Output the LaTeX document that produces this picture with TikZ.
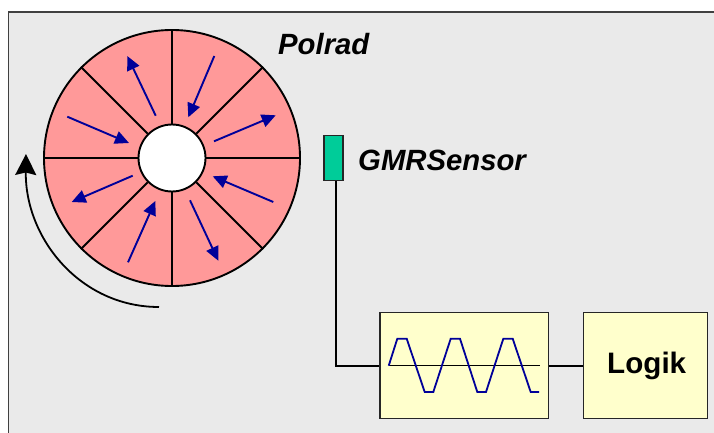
\documentclass[tikz,border=0pt]{standalone}
\usepackage{fontspec}
\setmainfont{Liberation Sans}
\usetikzlibrary{arrows.meta}
\definecolor{panelgrau}{HTML}{EAEAEA}
\definecolor{randgrau}{HTML}{404040}
\definecolor{polrot}{HTML}{FF9999}
\definecolor{pfeilblau}{HTML}{000099}
\definecolor{sensorgruen}{HTML}{00CC99}
\definecolor{kastengelb}{HTML}{FFFFCC}
\begin{document}
\begin{tikzpicture}[x=1pt,y=-1pt]
	% Styles
	\tikzstyle{linie}=[line width=1.9pt,black]
	\tikzstyle{pfeil}=[-{Triangle[length=14pt,width=13pt]},line width=1.9pt,pfeilblau]
	\tikzstyle{drehpfeil}=[-{Stealth[length=21pt,width=21pt,inset=2.5pt]},line width=1.8pt,black]
	\tikzstyle{rad}=[circle,draw=black,line width=1.9pt,fill=polrot,minimum size=256pt,inner sep=0pt]
	\tikzstyle{nabe}=[circle,draw=black,line width=1.9pt,fill=white,minimum size=67pt,inner sep=0pt]
	\tikzstyle{kasten}=[draw=black!85,line width=1.3pt,fill=kastengelb,minimum height=106pt,inner sep=0pt]
	\tikzstyle{titel}=[font=\fontsize{29.3}{32}\selectfont\bfseries\itshape,anchor=base west,inner sep=0pt]
	% Dimensions
	\def\NiveauSignal{365.7}
	\def\WelleOben{338.7}
	\def\WelleUnten{392}
	\useasboundingbox (0,0) rectangle (714,433);
	% Panel
	\fill[panelgrau] (8.5,12) rectangle (714,433);
	\draw[randgrau,line width=1.1pt] (8.5,433)--(8.5,12)--(714,12);
	% Noeuds
	\node[rad] (Rad) at (172,158) {};
	\node[nabe] (Nabe) at (172,158) {};
	\node[titel] (Polrad) at (278,55) {Polrad};
	\node[titel] (GMR) at (358,170) {GMRSensor};
	\node[draw=black!85,line width=1.4pt,fill=sensorgruen,minimum width=19pt,minimum height=45pt,inner sep=0pt] (Sensor) at (333.6,157.7) {};
	\node[kasten,minimum width=168.3pt] (Filter) at (464.2,365.3) {};
	\node[kasten,minimum width=124pt] (Logik) at (645.3,365.3) {};
	\node[font=\fontsize{29.6}{32}\selectfont\bfseries,inner sep=0pt,anchor=base] (LogikText) at (646.7,373) {Logik};
	% Speichen
	\foreach \winkel in {0,45,...,315}
		\draw[linie] (Nabe.\winkel)--(Rad.\winkel);
	% Magnetisierung
	\foreach \nr/\xa/\ya/\xb/\yb in {
		1/155.7/115.7/127.3/56,
		2/214.3/56/188.3/117.3,
		3/214/141.3/275.7/115.3,
		4/273.3/202/212.7/176.3,
		5/190/200.3/218.3/260.7,
		6/128/262.3/155.3/201,
		7/132.7/175.7/71.7/202,
		8/67.3/116.7/129/143}{
		\coordinate (P\nr a) at (\xa,\ya);
		\coordinate (P\nr b) at (\xb,\yb);
		\draw[pfeil] (P\nr a)--(P\nr b);
	}
	% Drehrichtung
	\coordinate (DrehA) at (159,307);
	\coordinate (DrehB) at (26,154);
	\draw[drehpfeil] (DrehA) .. controls (80,307) and (25,238) .. (DrehB);
	% Arcs
	\coordinate (Knick) at (335.7,\NiveauSignal);
	\draw[linie] (Sensor.south -| Knick)--(Knick)--(Filter.west |- Knick);
	\draw[linie] (Filter.east |- Knick)--(Logik.west |- Knick);
	% Signal
	\coordinate (NullA) at (388.7,\NiveauSignal);
	\coordinate (NullB) at (539.7,\NiveauSignal);
	\draw[line width=1pt,black] (NullA)--(NullB);
	\draw[line width=1.8pt,pfeilblau] (NullA)--(397.3,\WelleOben)--(406.7,\WelleOben)
		--(424.7,\WelleUnten)--(433.3,\WelleUnten)--(450.7,\WelleOben)--(460,\WelleOben)
		--(477.3,\WelleUnten)--(486,\WelleUnten)--(503.3,\WelleOben)--(512.7,\WelleOben)
		--(530.7,\WelleUnten)--(539,\WelleUnten);
\end{tikzpicture}
\end{document}
